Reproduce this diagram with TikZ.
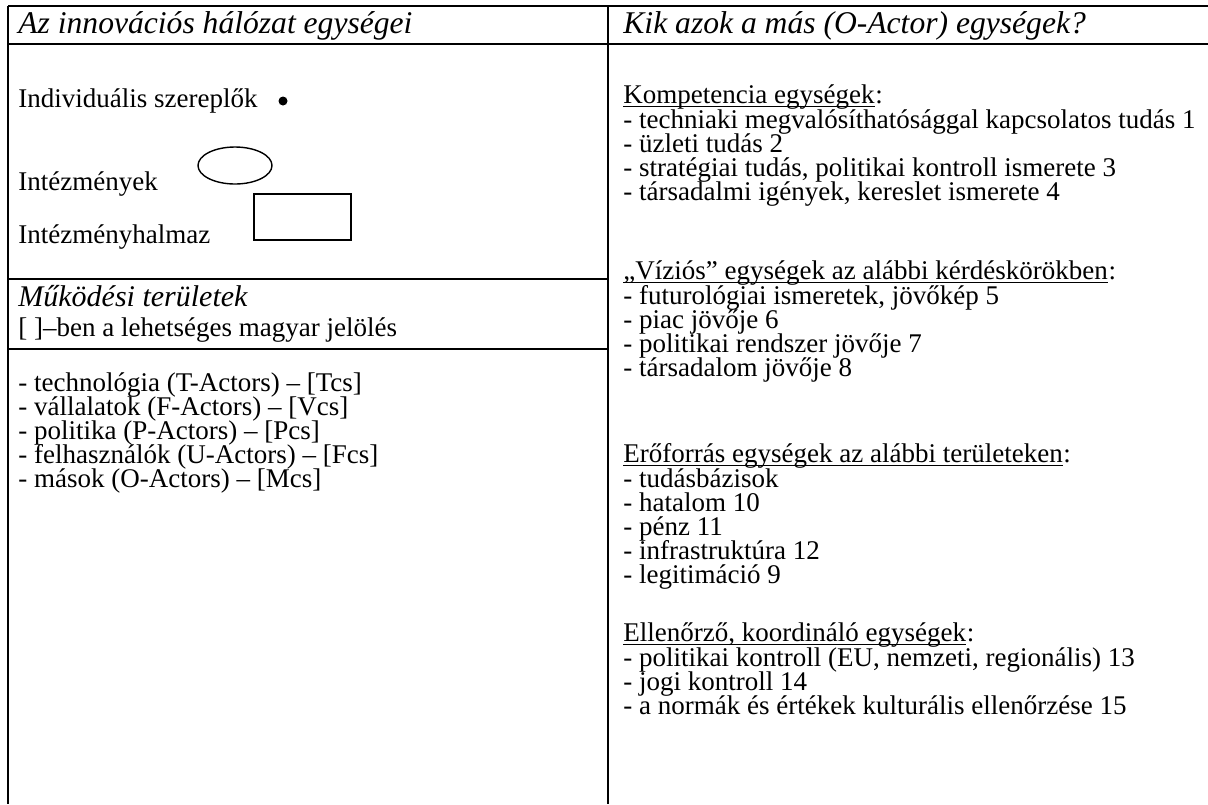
\documentclass[tikz,border=0pt]{standalone}
\usepackage{fontspec}
\setmainfont{Liberation Serif}
\usetikzlibrary{shapes.geometric}
\begin{document}
\begin{tikzpicture}[x=0.5pt,y=-0.5pt,
  rule/.style={line width=1pt},
  uline/.style={line width=0.75pt},
  body/.style={anchor=base west, inner sep=0pt, font=\fontsize{13.5}{15}\selectfont},
  bodyr/.style={anchor=base west, inner sep=0pt, font=\fontsize{13.5}{15}\selectfont},
  head/.style={anchor=base west, inner sep=0pt, font=\fontsize{15.8}{18}\selectfont\itshape},
  subhead/.style={anchor=base west, inner sep=0pt, font=\fontsize{15}{17}\selectfont\itshape},
  symb/.style={draw, line width=0.7pt, inner sep=0pt},
]
\useasboundingbox (0,0) rectangle (1208,804);

% table rules
\draw[rule] (8,6) -- (1208,6);
\draw[rule] (8,43.5) -- (1208,43.5);
\draw[rule] (8,6) -- (8,804);
\draw[rule] (608,6) -- (608,804);
\draw[rule] (8,279) -- (608,279);
\draw[rule] (8,349) -- (608,349);

% left column: unit types
\node[head] (hl) at (18,33) {Az innovációs hálózat egységei};
\node[body] (ind) at (18,107) {Individuális szereplők};
\node[circle, fill=black, inner sep=0pt, minimum size=4.5pt] (dot) at (283,101) {};
\node[body] (inst) at (18,190) {Intézmények};
\node[symb, ellipse, minimum width=37pt, minimum height=18.5pt] (ell) at (235,165.5) {};
\node[body] (insh) at (18,243) {Intézményhalmaz};
\node[symb, rectangle, minimum width=48.5pt, minimum height=23pt] (box) at (302.5,217) {};

% left column: operating areas
\node[subhead] (muk) at (18,306) {Működési területek};
\node[body] (jel) at (18,336) {[ ]–ben a lehetséges magyar jelölés};
\node[body] (l1) at (18,391) {- technológia (T-Actors) – [Tcs]};
\node[body] (l2) at (18,415) {- vállalatok (F-Actors) – [Vcs]};
\node[body] (l3) at (18,439) {- politika (P-Actors) – [Pcs]};
\node[body] (l4) at (18,463) {- felhasználók (U-Actors) – [Fcs]};
\node[body] (l5) at (18,487) {- mások (O-Actors) – [Mcs]};

% right column: headings are underlined up to the colon
\node[head] (hr) at (623,33) {Kik azok a más (O-Actor) egységek?};
\node[body] (k0) at (623,103) {Kompetencia egységek};
\node[body, anchor=base west] (k0c) at (k0.base east) {:};
\node[body] (k1) at (623,128) {- techniaki megvalósíthatósággal kapcsolatos tudás 1};
\node[body] (k2) at (623,152) {- üzleti tudás 2};
\node[body] (k3) at (623,176) {- stratégiai tudás, politikai kontroll ismerete 3};
\node[body] (k4) at (623,200) {- társadalmi igények, kereslet ismerete 4};

\node[body] (v0) at (623,279) {„Víziós” egységek az alábbi kérdéskörökben};
\node[body, anchor=base west] (v0c) at (v0.base east) {:};
\node[body] (v1) at (623,304) {- futurológiai ismeretek, jövőkép 5};
\node[body] (v2) at (623,328) {- piac jövője 6};
\node[body] (v3) at (623,352) {- politikai rendszer jövője 7};
\node[body] (v4) at (623,376) {- társadalom jövője 8};

\node[body] (e0) at (623,462) {Erőforrás egységek az alábbi területeken};
\node[body, anchor=base west] (e0c) at (e0.base east) {:};
\node[body] (e1) at (623,487) {- tudásbázisok};
\node[body] (e2) at (623,511) {- hatalom 10};
\node[body] (e3) at (623,535) {- pénz 11};
\node[body] (e4) at (623,559) {- infrastruktúra 12};
\node[body] (e5) at (623,583) {- legitimáció 9};

\node[body] (c0) at (623,641) {Ellenőrző, koordináló egységek};
\node[body, anchor=base west] (c0c) at (c0.base east) {:};
\node[body] (c1) at (623,666) {- politikai kontroll (EU, nemzeti, regionális) 13};
\node[body] (c2) at (623,690) {- jogi kontroll 14};
\node[body] (c3) at (623,714) {- a normák és értékek kulturális ellenőrzése 15};

\foreach \h in {k0,v0,e0,c0}
  \draw[uline] ([yshift=-1.7pt]\h.base west) -- ([yshift=-1.7pt]\h.base east);
\end{tikzpicture}
\end{document}
